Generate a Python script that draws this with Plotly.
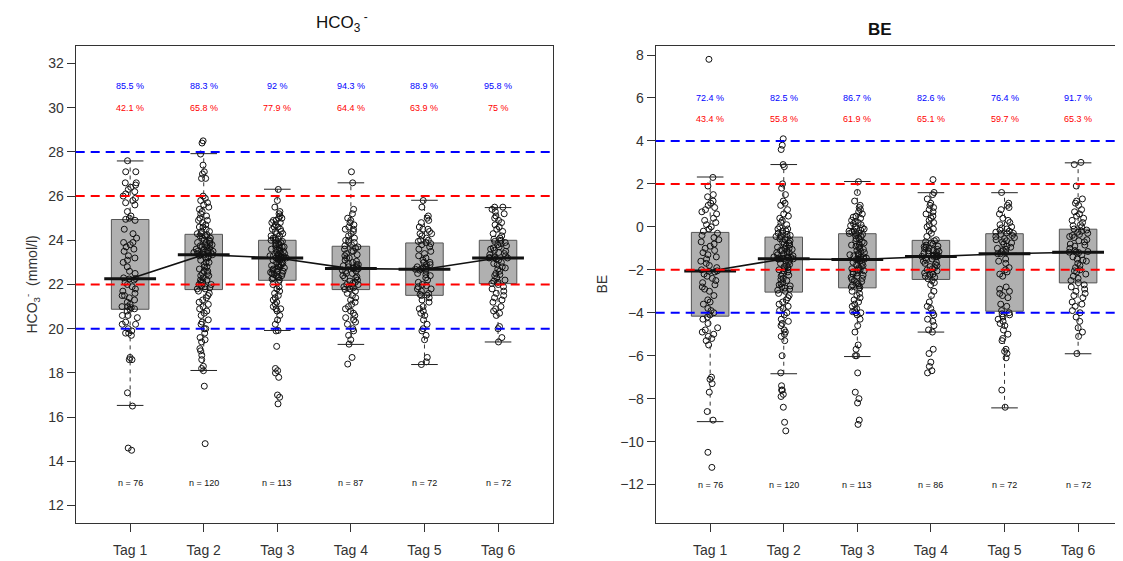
import plotly.graph_objects as go

# ---------------- data ----------------
tags = ["Tag 1", "Tag 2", "Tag 3", "Tag 4", "Tag 5", "Tag 6"]

# HCO3- (mmol/l) individual values per day
hco3_tag1 = [27.6, 27.1, 27.1, 26.6, 26.6, 26.5, 26.4, 26.3, 26.2, 26.1, 26.0, 25.9, 25.8, 25.7, 25.6, 25.3, 25.1, 25.0, 24.95,
             24.9, 24.5, 24.3, 24.1, 23.9, 23.9, 23.8, 23.7, 23.6, 23.5, 23.3, 23.2, 23.1, 23.0, 22.8, 22.6, 22.5, 22.3,
             22.25, 22.27,
             22.2, 22.1, 22.0, 21.9, 21.8, 21.7, 21.6, 21.5, 21.5, 21.4, 21.3, 21.2, 21.1, 21.0, 21.0, 20.95, 20.9, 20.88,
             20.8, 20.6, 20.6, 20.5, 20.3, 20.2, 20.2, 20.0, 19.9, 19.8, 19.8, 19.7, 18.7, 18.6, 18.6, 17.1, 16.5, 14.6, 14.5]
hco3_tag2 = [28.5, 28.4, 27.9, 27.4, 27.1, 27.0, 26.8, 26.8, 26.0, 25.9, 25.8, 25.7, 25.6, 25.5, 25.4, 25.3, 25.2, 25.1, 25.0, 24.9,
             24.9, 24.8, 24.7, 24.6, 24.6, 24.5, 24.4, 24.4, 24.3, 24.3,
             24.25, 24.2, 24.2, 24.1, 24.1, 24.0, 24.0, 23.95, 23.9, 23.9, 23.85, 23.8, 23.8, 23.75, 23.7, 23.7, 23.65, 23.6, 23.6,
             23.55, 23.5, 23.5, 23.5, 23.45, 23.45, 23.4, 23.4, 23.4, 23.36,
             23.35, 23.35,
             23.3, 23.3, 23.2, 23.2, 23.1, 23.0, 23.0, 22.9, 22.8, 22.8, 22.7, 22.6, 22.6, 22.5, 22.5, 22.4, 22.4, 22.3, 22.2,
             22.2, 22.1, 22.1, 22.0, 22.0, 21.95, 21.9, 21.85, 21.8, 21.8,
             21.7, 21.6, 21.5, 21.4, 21.3, 21.2, 21.1, 21.0, 20.9, 20.8, 20.7, 20.6, 20.4, 20.3, 20.2, 20.0, 20.0, 19.8, 19.6,
             19.5, 19.4, 19.1, 19.0, 18.8, 18.6, 18.3, 18.2, 18.1, 17.4, 14.8]
hco3_tag3 = [26.3, 25.8, 25.5, 25.3, 25.2, 25.1, 25.0, 25.0, 24.9, 24.9, 24.8, 24.8, 24.7, 24.6, 24.6, 24.5, 24.5, 24.4, 24.4, 24.3,
             24.3, 24.2, 24.2, 24.1, 24.1, 24.05, 24.0, 24.0,
             23.95, 23.9, 23.9, 23.85, 23.8, 23.8, 23.75, 23.7, 23.7, 23.65, 23.6, 23.6, 23.55, 23.5, 23.5, 23.45, 23.4, 23.4,
             23.35, 23.3, 23.3, 23.3, 23.25, 23.25, 23.2, 23.2, 23.2, 23.2,
             23.2,
             23.15, 23.1, 23.1, 23.0, 23.0, 22.95, 22.9, 22.9, 22.85, 22.8, 22.8, 22.75, 22.7, 22.7, 22.65, 22.6, 22.6, 22.55,
             22.5, 22.5, 22.45, 22.4, 22.4, 22.35, 22.3, 22.3, 22.25, 22.2,
             22.1, 22.0, 21.9, 21.8, 21.7, 21.6, 21.5, 21.4, 21.3, 21.2, 21.1, 21.0, 20.9, 20.9, 20.8, 20.6, 20.4, 20.2, 19.92,
             19.9, 19.2, 18.2, 18.1, 18.0, 17.8, 17.0, 16.9, 16.6]
hco3_tag4 = [27.1, 26.6, 25.4, 25.2, 25.0, 24.9, 24.8, 24.7, 24.6, 24.5, 24.5, 24.4, 24.3, 24.2, 24.1, 24.0, 24.0, 23.9, 23.9, 23.8,
             23.75,
             23.7, 23.65, 23.6, 23.5, 23.5, 23.4, 23.35, 23.3, 23.2, 23.2, 23.1, 23.05, 23.0, 22.95, 22.9, 22.9, 22.85, 22.8,
             22.8, 22.75, 22.73,
             22.72,
             22.7, 22.65, 22.6, 22.6, 22.5, 22.5, 22.4, 22.35, 22.3, 22.3, 22.2, 22.15, 22.1, 22.05, 22.0, 22.0, 21.95, 21.9,
             21.85, 21.8, 21.78,
             21.7, 21.6, 21.5, 21.4, 21.3, 21.2, 21.1, 21.0, 20.9, 20.8, 20.7, 20.6, 20.5, 20.4, 20.3, 20.2, 20.0, 19.9, 19.7,
             19.5, 19.3, 18.7, 18.4]
hco3_tag5 = [25.8, 25.5, 25.1, 25.0, 24.9, 24.8, 24.6, 24.5, 24.5, 24.4, 24.3, 24.3, 24.2, 24.1, 24.0, 24.0, 23.95, 23.9,
             23.85, 23.8, 23.7, 23.6, 23.5, 23.4, 23.3, 23.2, 23.1, 23.0, 23.0, 22.9, 22.9, 22.8, 22.8, 22.75, 22.7,
             22.69, 22.69,
             22.65, 22.6, 22.5, 22.45, 22.4, 22.3, 22.2, 22.1, 22.0, 21.95, 21.9, 21.8, 21.8, 21.7, 21.6, 21.55, 21.52,
             21.5, 21.4, 21.3, 21.2, 21.0, 20.9, 20.8, 20.7, 20.6, 20.4, 20.2, 20.0, 19.9, 19.7, 19.5, 18.7, 18.5, 18.38]
hco3_tag6 = [25.5, 25.5, 25.4, 25.3, 25.2, 25.1, 25.0, 24.9, 24.8, 24.7, 24.6, 24.5, 24.4, 24.3, 24.2, 24.1, 24.05, 24.0,
             23.95, 23.9, 23.85, 23.8, 23.75, 23.7, 23.65, 23.6, 23.55, 23.5, 23.45, 23.4, 23.35, 23.3, 23.25, 23.22, 23.21,
             23.2, 23.2,
             23.15, 23.1, 23.0, 22.95, 22.9, 22.8, 22.75, 22.7, 22.6, 22.5, 22.45, 22.4, 22.3, 22.2, 22.15, 22.1, 22.05,
             22.0, 21.9, 21.8, 21.7, 21.6, 21.5, 21.4, 21.3, 21.2, 21.0, 20.9, 20.8, 20.7, 20.6, 20.1, 20.0, 19.6, 19.4]

hco3_q1 = [20.88, 21.77, 22.19, 21.77, 21.51, 22.04]
hco3_median = [22.26, 23.35, 23.2, 22.72, 22.69, 23.2]
hco3_q3 = [24.94, 24.27, 24.0, 23.73, 23.88, 24.0]
hco3_whisker_low = [16.53, 18.11, 19.92, 19.29, 18.38, 19.4]
hco3_whisker_high = [27.59, 27.92, 26.31, 26.6, 25.81, 25.48]

hco3_pct_blue = [85.5, 88.3, 92, 94.3, 88.9, 95.8]
hco3_pct_red = [42.1, 65.8, 77.9, 64.4, 63.9, 75]
hco3_n = [76, 120, 113, 87, 72, 72]
hco3_blue_limits = [20, 28]
hco3_red_limits = [22, 26]

# BE individual values per day
be_tag1 = [7.8, 2.3, 1.9, 1.5, 1.4, 1.2, 1.1, 1.0, 0.9, 0.8, 0.7, 0.6, 0.4, 0.3, 0.2, 0.1, 0.0, -0.1, -0.2,
           -0.3, -0.4, -0.5, -0.6, -0.7, -0.8, -0.9, -1.0, -1.1, -1.2, -1.3, -1.4, -1.5, -1.6, -1.7, -1.8, -1.9, -2.0,
           -2.05, -2.07,
           -2.1, -2.2, -2.3, -2.4, -2.5, -2.6, -2.7, -2.8, -2.9, -3.0, -3.2, -3.4, -3.5, -3.6, -3.8, -3.9, -4.0, -4.1,
           -4.2, -4.3, -4.5, -4.7, -4.8, -4.9, -5.0, -5.1, -5.2, -5.3, -5.5, -7.0, -7.1, -7.3, -7.7, -8.6, -9.0, -10.5, -11.2]
be_tag2 = [4.1, 3.8, 3.6, 2.9, 2.8, 2.0, 1.8, 1.5, 1.2, 1.1, 1.0, 0.8, 0.6, 0.5, 0.4, 0.3, 0.2, 0.1, 0.0, -0.1,
           -0.1, -0.2, -0.2, -0.3, -0.3, -0.35, -0.4, -0.4, -0.45, -0.47,
           -0.5, -0.55, -0.6, -0.65, -0.7, -0.75, -0.8, -0.85, -0.9, -0.95, -1.0, -1.0, -1.05, -1.1, -1.1, -1.15, -1.2,
           -1.2, -1.25, -1.3, -1.3, -1.35, -1.4, -1.4, -1.42, -1.44, -1.46, -1.47, -1.48,
           -1.49, -1.49,
           -1.5, -1.55, -1.6, -1.65, -1.7, -1.75, -1.8, -1.85, -1.9, -1.95, -2.0, -2.0, -2.05, -2.1, -2.2, -2.25, -2.3,
           -2.4, -2.45, -2.5, -2.6, -2.65, -2.7, -2.75, -2.8, -2.85, -2.9, -2.95, -3.0,
           -3.1, -3.2, -3.3, -3.4, -3.5, -3.6, -3.7, -3.8, -3.9, -4.0, -4.1, -4.3, -4.4, -4.5, -4.6, -4.8, -4.9, -5.0,
           -5.1, -5.3, -6.0, -6.8, -7.4, -7.6, -7.6, -7.8, -7.9, -8.4, -9.1, -9.5]
be_tag3 = [2.1, 1.6, 1.2, 1.0, 0.9, 0.8, 0.7, 0.6, 0.5, 0.45, 0.4, 0.3, 0.25, 0.2, 0.15, 0.1, 0.05, 0.0, -0.05, -0.1,
           -0.1, -0.15, -0.2, -0.2, -0.25, -0.3, -0.3, -0.31,
           -0.35, -0.4, -0.45, -0.5, -0.55, -0.6, -0.65, -0.7, -0.75, -0.8, -0.85, -0.9, -0.95, -1.0, -1.05, -1.1, -1.15,
           -1.2, -1.25, -1.3, -1.3, -1.35, -1.4, -1.4, -1.45, -1.48, -1.5, -1.51,
           -1.52,
           -1.55, -1.6, -1.65, -1.7, -1.75, -1.8, -1.85, -1.9, -1.95, -2.0, -2.0, -2.05, -2.1, -2.15, -2.2, -2.25, -2.3,
           -2.35, -2.4, -2.45, -2.5, -2.55, -2.6, -2.65, -2.7, -2.75, -2.8, -2.83,
           -2.9, -3.0, -3.1, -3.2, -3.3, -3.4, -3.5, -3.6, -3.7, -3.8, -3.9, -3.95, -4.0, -4.0, -4.1, -4.3, -4.6, -4.9,
           -5.5, -5.7, -6.0, -6.0, -6.8, -7.7, -8.0, -8.2, -9.0, -9.2]
be_tag4 = [2.2, 1.6, 1.5, 1.3, 1.1, 1.0, 0.9, 0.8, 0.7, 0.6, 0.5, 0.4, 0.3, 0.2, 0.1, 0.0, -0.1, -0.2, -0.3, -0.45, -0.6,
           -0.65, -0.7, -0.75, -0.8, -0.85, -0.9, -0.92, -0.95, -1.0, -1.02, -1.05, -1.1, -1.12, -1.15, -1.2, -1.22, -1.25,
           -1.3, -1.32, -1.35, -1.37,
           -1.38, -1.38,
           -1.4, -1.45, -1.5, -1.55, -1.6, -1.65, -1.7, -1.75, -1.8, -1.85, -1.9, -1.95, -2.0, -2.05, -2.1, -2.15, -2.2,
           -2.25, -2.3, -2.35, -2.42,
           -2.5, -2.6, -2.7, -3.0, -3.2, -3.5, -3.7, -3.8, -4.0, -4.1, -4.3, -4.4, -4.6, -4.8, -4.9, -5.7, -5.9, -6.3, -6.5,
           -6.7, -6.8]
be_tag5 = [1.6, 1.1, 1.0, 0.9, 0.8, 0.6, 0.4, 0.3, 0.2, 0.1, 0.0, -0.05, -0.1, -0.15, -0.2, -0.25, -0.28, -0.3,
           -0.35, -0.4, -0.45, -0.5, -0.55, -0.6, -0.65, -0.7, -0.75, -0.8, -0.9, -0.95, -1.0, -1.05, -1.1, -1.15, -1.2,
           -1.25, -1.25,
           -1.5, -1.6, -1.7, -1.9, -2.0, -2.1, -2.2, -2.3, -2.8, -2.9, -3.0, -3.1, -3.2, -3.3, -3.6, -3.7, -3.9,
           -4.0, -4.05, -4.1, -4.2, -4.3, -4.4, -4.5, -4.6, -4.8, -5.0, -5.2, -5.3, -5.7, -5.8, -5.9, -6.1, -7.6, -8.4]
be_tag6 = [3.0, 2.9, 1.9, 1.3, 1.2, 1.1, 1.0, 0.8, 0.7, 0.6, 0.5, 0.4, 0.3, 0.2, 0.1, 0.05, 0.0, -0.1,
           -0.15, -0.2, -0.25, -0.3, -0.35, -0.4, -0.45, -0.5, -0.6, -0.65, -0.7, -0.8, -0.85, -0.9, -1.0, -1.1, -1.15,
           -1.18, -1.18,
           -1.2, -1.3, -1.4, -1.5, -1.55, -1.6, -1.7, -1.8, -1.9, -2.0, -2.05, -2.1, -2.2, -2.3, -2.4, -2.5, -2.6,
           -2.7, -2.8, -2.9, -3.0, -3.1, -3.2, -3.3, -3.5, -3.6, -3.7, -3.9, -4.0, -4.2, -4.4, -4.7, -4.9, -5.1, -5.9]

be_q1 = [-4.16, -3.04, -2.84, -2.45, -3.93, -2.61]
be_median = [-2.06, -1.49, -1.52, -1.38, -1.25, -1.18]
be_q3 = [-0.26, -0.48, -0.32, -0.63, -0.32, -0.11]
be_whisker_low = [-9.07, -6.84, -6.04, -4.9, -8.43, -5.91]
be_whisker_high = [2.32, 2.9, 2.11, 1.59, 1.59, 2.98]

be_pct_blue = [72.4, 82.5, 86.7, 82.6, 76.4, 91.7]
be_pct_red = [43.4, 55.8, 61.9, 65.1, 59.7, 65.3]
be_n = [76, 120, 113, 86, 72, 72]
be_blue_limits = [-4, 4]
be_red_limits = [-2, 2]

# ---------------- figure ----------------
FONT = "Liberation Sans, Arial, sans-serif"
BLUE = "#0000FF"
RED = "#FF0000"
positions = list(range(1, len(tags) + 1))
BOX_W = 0.51

# the page body adds an 8px offset, so the figure is 8px smaller than the window
W, H = 1115, 553

fig = go.Figure()


def add_panel(fig, groups, q1, med, q3, wlo, whi, xa, ya):
    # boxes (precomputed statistics, whiskers drawn separately)
    fig.add_trace(go.Box(
        x=positions, q1=q1, median=med, q3=q3, lowerfence=q1, upperfence=q3, width=BOX_W,
        fillcolor="#b0b0b0", line=dict(color="#555555", width=1),
        whiskerwidth=0, boxpoints=False, xaxis=xa, yaxis=ya, showlegend=False,
        hoverinfo="skip"))
    # dashed whiskers
    wx, wy = [], []
    for p, a, b, c, d in zip(positions, wlo, q1, q3, whi):
        wx += [p, p, None, p, p, None]
        wy += [a, b, None, c, d, None]
    fig.add_trace(go.Scatter(x=wx, y=wy, mode="lines", xaxis=xa, yaxis=ya,
                             line=dict(color="#333333", width=1, dash="4px,4px"),
                             showlegend=False, hoverinfo="skip"))
    # whisker caps
    fig.add_trace(go.Scatter(x=positions + positions, y=list(wlo) + list(whi), mode="markers",
                             xaxis=xa, yaxis=ya,
                             marker=dict(symbol="line-ew", size=19, line=dict(color="#222222", width=1)),
                             showlegend=False, hoverinfo="skip"))
    # jittered raw points
    px, py = [], []
    for p, vals in zip(positions, groups):
        px += [p] * len(vals)
        py += vals
    fig.add_trace(go.Box(x=px, y=py, boxpoints="all", jitter=0.55, pointpos=0, width=BOX_W,
                         fillcolor="rgba(0,0,0,0)", line=dict(color="rgba(0,0,0,0)", width=0),
                         marker=dict(symbol="circle-open", size=6, color="#111111",
                                     line=dict(width=1, color="#111111")),
                         xaxis=xa, yaxis=ya, showlegend=False, hoverinfo="skip"))
    # line connecting medians
    fig.add_trace(go.Scatter(x=positions, y=med, mode="lines", xaxis=xa, yaxis=ya,
                             line=dict(color="#111111", width=1.6), showlegend=False, hoverinfo="skip"))
    # thick median bars
    fig.add_trace(go.Scatter(x=positions, y=med, mode="markers", xaxis=xa, yaxis=ya,
                             marker=dict(symbol="line-ew", size=37, line=dict(color="#111111", width=3)),
                             showlegend=False, hoverinfo="skip"))


add_panel(fig, [hco3_tag1, hco3_tag2, hco3_tag3, hco3_tag4, hco3_tag5, hco3_tag6],
          hco3_q1, hco3_median, hco3_q3, hco3_whisker_low, hco3_whisker_high, "x", "y")
add_panel(fig, [be_tag1, be_tag2, be_tag3, be_tag4, be_tag5, be_tag6],
          be_q1, be_median, be_q3, be_whisker_low, be_whisker_high, "x2", "y2")

# reference lines
for xr, yr, blues, reds in [("x", "y", hco3_blue_limits, hco3_red_limits),
                            ("x2", "y2", be_blue_limits, be_red_limits)]:
    for v in blues:
        fig.add_shape(type="line", xref=xr + " domain", yref=yr, x0=0, x1=1, y0=v, y1=v,
                      line=dict(color=BLUE, width=2, dash="9px,6px"), layer="above")
    for v in reds:
        fig.add_shape(type="line", xref=xr + " domain", yref=yr, x0=0, x1=1, y0=v, y1=v,
                      line=dict(color=RED, width=2, dash="9px,6px"), layer="above")

# text labels inside panels
annotations = []
for xr, yr, blue, red, ns, yb, yrd, yn in [("x", "y", hco3_pct_blue, hco3_pct_red, hco3_n, 31, 30, 13),
                                            ("x2", "y2", be_pct_blue, be_pct_red, be_n, 6, 5, -12)]:
    for p, b, r, n in zip(positions, blue, red, ns):
        annotations.append(dict(x=p, y=yb, xref=xr, yref=yr, text=f"{b:g} %", showarrow=False,
                                font=dict(family=FONT, size=9, color=BLUE)))
        annotations.append(dict(x=p, y=yrd, xref=xr, yref=yr, text=f"{r:g} %", showarrow=False,
                                font=dict(family=FONT, size=9, color=RED)))
        annotations.append(dict(x=p, y=yn, xref=xr, yref=yr, text=f"n = {n}", showarrow=False,
                                font=dict(family=FONT, size=9, color="#111111")))

# titles and y axis titles
annotations += [
    dict(x=306 / W, y=1.05, xref="paper", yref="paper", text="HCO<sub>3</sub><sup> -</sup>",
         showarrow=False, font=dict(family=FONT, size=17, color="#111111"), yanchor="middle"),
    dict(x=886 / W, y=1.034, xref="paper", yref="paper", text="<b>BE</b>",
         showarrow=False, font=dict(family=FONT, size=17, color="#111111"), yanchor="middle"),
    dict(x=12 / W, y=0.5, xref="paper", yref="paper", text="HCO<sub>3</sub><sup>-</sup>  (mmol/l)",
         textangle=-90, showarrow=False, font=dict(family=FONT, size=14, color="#333333")),
    dict(x=593 / W, y=0.5, xref="paper", yref="paper", text="BE",
         textangle=-90, showarrow=False, font=dict(family=FONT, size=14, color="#333333")),
]

axis_common = dict(showgrid=False, zeroline=False, showline=True, linecolor="#333333", linewidth=1,
                   ticks="outside", ticklen=8, tickcolor="#333333",
                   tickfont=dict(family=FONT, size=14, color="#333333"))

fig.update_layout(
    width=W, height=H,
    margin=dict(l=0, r=0, t=38, b=38),
    paper_bgcolor="white", plot_bgcolor="white",
    boxmode="overlay",
    showlegend=False,
    annotations=annotations,
    xaxis=dict(domain=[67.7 / W, 544.5 / W], range=[0.26, 6.74], anchor="y",
               tickvals=positions, ticktext=tags, mirror=True, ticklabelstandoff=6, **axis_common),
    yaxis=dict(domain=[0, 1], range=[11.21, 32.79], anchor="x", tickvals=list(range(12, 33, 2)),
               mirror=True, **axis_common),
    xaxis2=dict(domain=[647.7 / W, 1.0], range=[0.26, 6.61], anchor="y2",
                tickvals=positions, ticktext=tags, mirror=True, ticklabelstandoff=6, **axis_common),
    yaxis2=dict(domain=[0, 1], range=[-13.79, 8.42], anchor="x2", tickvals=list(range(-12, 9, 2)),
                mirror=False, **axis_common),
)

fig.write_html("out.html")
